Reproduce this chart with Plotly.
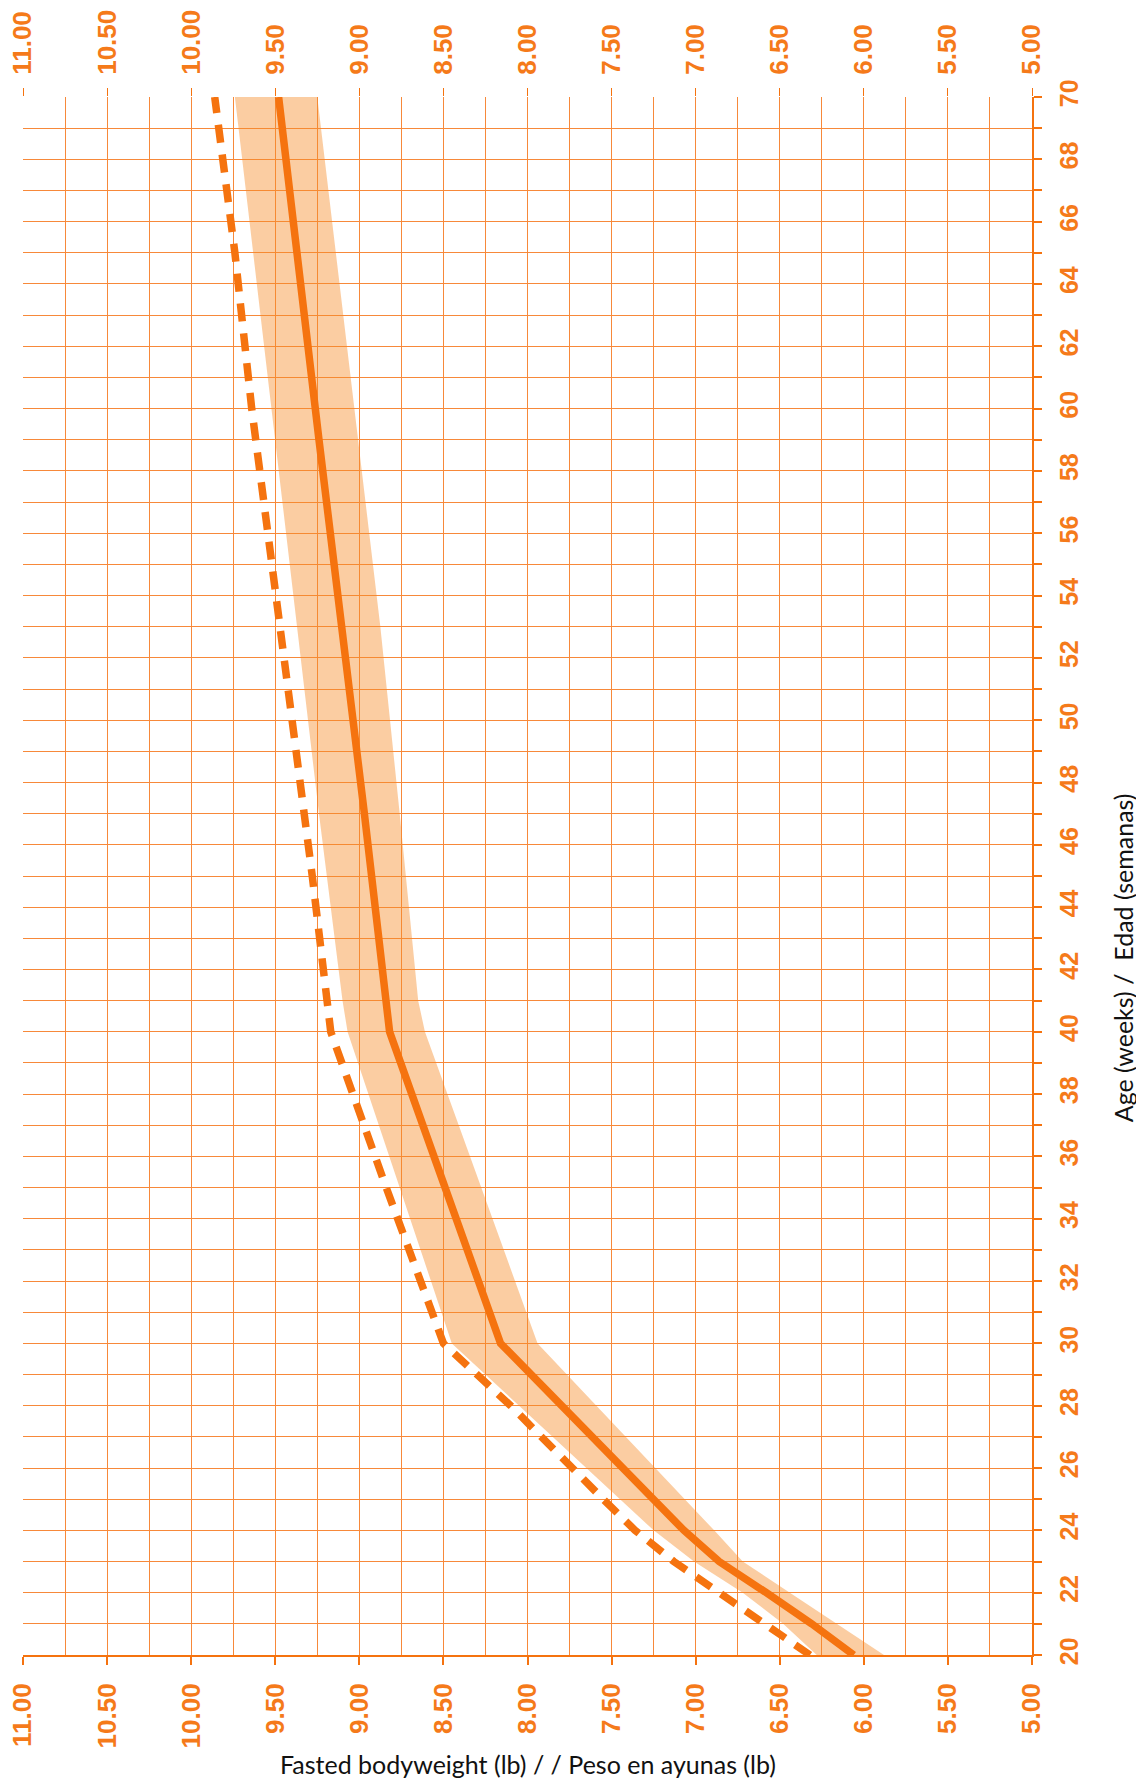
import plotly.graph_objects as go

# ---- data ----
solid_age = [20, 21, 22, 23, 24, 30, 40, 47, 59, 70]
solid_wt = [6.06, 6.31, 6.58, 6.86, 7.07, 8.16, 8.82, 8.97, 9.24, 9.48]

dash_age = [20, 21, 22, 23, 24, 25, 26, 27, 28, 29, 30, 35, 40, 45, 50, 55, 60, 65, 70]
dash_wt = [6.32, 6.60, 6.86, 7.13, 7.36, 7.55, 7.73, 7.91, 8.10, 8.30, 8.50, 8.84,
           9.17, 9.28, 9.40, 9.52, 9.64, 9.74, 9.86]

band_age = [20, 21, 22, 23, 24, 30, 40, 41, 47, 53, 60, 70]
band_high = [6.28, 6.48, 6.72, 7.01, 7.25, 8.45, 9.07, 9.10, 9.24, 9.37, 9.52, 9.74]
band_low = [5.88, 6.16, 6.44, 6.72, 6.89, 7.94, 8.61, 8.65, 8.76, 8.875, 9.03, 9.25]

weight_range = [11.0, 5.0]
age_range = [20, 70]

x_title = "Fasted bodyweight (lb) / / Peso en ayunas (lb)"
y_title = "Age (weeks) /  Edad (semanas)"

# ---- styles ----
ORANGE = "#F5730F"
GRID = "#F7893A"
TICKC = "#F57A1A"
BAND = "rgba(245,140,40,0.43)"
xtickfont = dict(family="Liberation Sans, Arial, sans-serif", size=26, color=TICKC, weight="bold")
ytickfont = dict(family="Liberation Sans, Arial, sans-serif", size=25, color=TICKC, weight="bold")
titlefont = dict(family="Lato, Carlito, sans-serif", size=25, color="#111111")

fig = go.Figure()

fig.add_trace(go.Scatter(
    x=band_high + band_low[::-1],
    y=band_age + band_age[::-1],
    fill="toself", fillcolor=BAND, line=dict(width=0),
    mode="lines", hoverinfo="skip", showlegend=False))

fig.add_trace(go.Scatter(
    x=dash_wt, y=dash_age, mode="lines",
    line=dict(color=ORANGE, width=7.5, dash="18px,12px"),
    showlegend=False))

fig.add_trace(go.Scatter(
    x=solid_wt, y=solid_age, mode="lines",
    line=dict(color=ORANGE, width=7.5),
    showlegend=False))

# invisible trace to activate the top axis
fig.add_trace(go.Scatter(
    x=weight_range, y=[age_range[0], age_range[0]], xaxis="x2", yaxis="y",
    mode="markers", marker=dict(opacity=0), hoverinfo="skip", showlegend=False))

# the page body has an 8px default margin, so the figure is sized to fit inside it
fig.update_layout(
    width=1136, height=1773,
    margin=dict(l=15, r=112, t=89, b=126, autoexpand=False),
    paper_bgcolor="white", plot_bgcolor="white",
    xaxis=dict(
        range=weight_range, tick0=5, dtick=0.5, tickformat=".2f",
        ticks="outside", ticklen=8, tickwidth=2, tickcolor=ORANGE,
        showline=True, linewidth=2, linecolor=ORANGE,
        showgrid=True, gridcolor=GRID, gridwidth=1,
        minor=dict(dtick=0.25, tick0=5, showgrid=True, gridcolor=GRID, gridwidth=1),
        tickangle=-90, tickfont=xtickfont, zeroline=False,
        ticklabelstandoff=8, automargin=False, ticklabeloverflow="allow",
    ),
    xaxis2=dict(
        range=weight_range, tick0=5, dtick=0.5, tickformat=".2f",
        overlaying="x", side="top", anchor="y",
        ticks="outside", ticklen=8, tickwidth=1, tickcolor=ORANGE,
        showline=False, showgrid=False, zeroline=False,
        tickangle=-90, tickfont=xtickfont, ticklabelstandoff=8, automargin=False,
        ticklabeloverflow="allow",
    ),
    yaxis=dict(
        range=age_range, tick0=20, dtick=2, side="right",
        ticks="outside", ticklen=8, tickwidth=2, tickcolor=ORANGE,
        showline=True, linewidth=2, linecolor=ORANGE,
        showgrid=True, gridcolor=GRID, gridwidth=1,
        minor=dict(dtick=1, tick0=20, ticks="outside", ticklen=8, tickwidth=2,
                   tickcolor=ORANGE, showgrid=True, gridcolor=GRID, gridwidth=1),
        tickangle=-90, tickfont=ytickfont,
        zeroline=False, ticklabelstandoff=6, automargin=False,
        ticklabeloverflow="allow",
    ),
    annotations=[
        dict(text=x_title, xref="paper", yref="paper", x=0.5, y=-0.07,
             xanchor="center", yanchor="middle", showarrow=False, font=titlefont),
        dict(text=y_title, xref="paper", yref="paper", x=1.0905, y=0.4474,
             xanchor="center", yanchor="middle", showarrow=False, textangle=-90,
             font=titlefont),
    ],
)

fig.write_html("out.html")
